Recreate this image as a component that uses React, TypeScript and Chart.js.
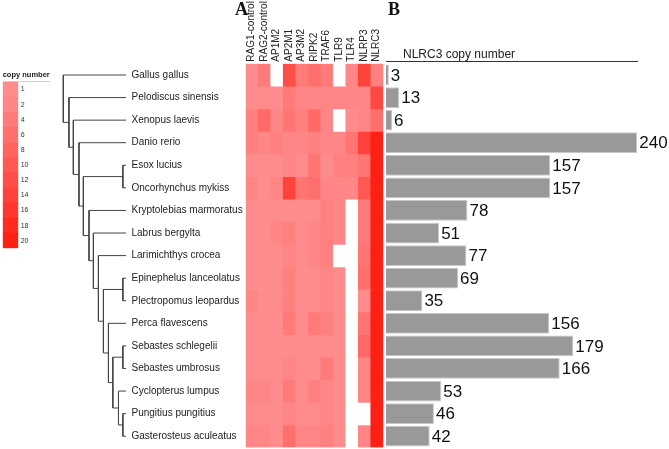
import React, { useEffect, useRef } from 'react';
import { Chart, registerables } from 'chart.js';

Chart.register(...registerables);
Chart.defaults.font.family = "'Liberation Sans', Arial, sans-serif";

// ---------- data ----------
const species = [
  'Gallus gallus',
  'Pelodiscus sinensis',
  'Xenopus laevis',
  'Danio rerio',
  'Esox lucius',
  'Oncorhynchus mykiss',
  'Kryptolebias marmoratus',
  'Labrus bergylta',
  'Larimichthys crocea',
  'Epinephelus lanceolatus',
  'Plectropomus leopardus',
  'Perca flavescens',
  'Sebastes schlegelii',
  'Sebastes umbrosus',
  'Cyclopterus lumpus',
  'Pungitius pungitius',
  'Gasterosteus aculeatus',
];

const genes = ['RAG1-control', 'RAG2-control', 'AP1M2', 'AP2M1', 'AP3M2', 'RIPK2', 'TRAF6', 'TLR9', 'TLR4', 'NLRP3', 'NLRC3'];

// NLRC3 copy number per species (panel B, also last heatmap column)
const nlrc3Copies = [3, 13, 6, 240, 157, 157, 78, 51, 77, 69, 35, 156, 179, 166, 53, 46, 42];

// copy numbers of the other genes (RAG1-control ... NLRP3), 0 = absent
const otherCopies = [
  [1, 4, 0, 12, 4, 6, 4, 0, 2, 14],
  [1, 1, 1, 4, 2, 2, 2, 2, 2, 2],
  [3, 7, 2, 5, 3, 7, 2, 0, 1, 2],
  [3, 2, 3, 2, 2, 3, 2, 2, 5, 14],
  [1, 1, 1, 2, 1, 5, 1, 3, 3, 5],
  [2, 1, 2, 14, 5, 6, 2, 2, 2, 10],
  [1, 1, 1, 1, 1, 1, 3, 2, 0, 4],
  [1, 1, 2, 3, 1, 2, 3, 2, 0, 4],
  [1, 1, 1, 2, 1, 2, 3, 0, 0, 5],
  [1, 1, 1, 3, 1, 1, 2, 1, 0, 6],
  [2, 1, 1, 3, 1, 1, 2, 1, 0, 1],
  [1, 1, 1, 4, 1, 4, 3, 1, 0, 5],
  [1, 1, 1, 1, 1, 1, 1, 1, 0, 7],
  [1, 1, 1, 2, 1, 1, 4, 1, 0, 2],
  [2, 2, 1, 4, 1, 3, 2, 1, 0, 2],
  [1, 1, 1, 2, 1, 1, 2, 1, 0, 0],
  [2, 2, 1, 6, 2, 2, 3, 1, 0, 2],
];

const legendSteps = [1, 2, 4, 6, 8, 10, 12, 14, 16, 18, 20];

// tree: [id, relative depth, children]; numbers are leaf (species) indexes
const treeNodes: [string, number, (number | string)[]][] = [
  ['n1', 0.0, [0, 'n2']],
  ['n2', 0.09, [1, 'n3']],
  ['n3', 0.16, [2, 'n4']],
  ['n4', 0.25, [3, 'n5']],
  ['n5', 0.32, ['p1', 'n6']],
  ['p1', 0.95, [4, 5]],
  ['n6', 0.41, [6, 'n7']],
  ['n7', 0.48, [7, 'n8']],
  ['n8', 0.56, [8, 'n9']],
  ['n9', 0.64, ['p2', 'n10']],
  ['p2', 0.95, [9, 10]],
  ['n10', 0.72, [11, 'n11']],
  ['n11', 0.79, ['p3', 'n12']],
  ['p3', 0.95, [12, 13]],
  ['n12', 0.88, [14, 'p4']],
  ['p4', 0.95, [15, 16]],
];
const leafDepth = 1;

// ---------- helpers ----------
const lowColor = [255, 140, 140];
const highColor = [255, 32, 20];
function heatColor(v: number): string {
  if (!v) return '#ffffff';
  const t = (Math.min(v, 20) - 1) / 19;
  const c = lowColor.map((l, k) => Math.round(l + (highColor[k] - l) * t));
  return `rgb(${c[0]},${c[1]},${c[2]})`;
}

const nodeMap = new Map(treeNodes.map((n) => [n[0], n]));
function nodeY(id: number | string): number {
  if (typeof id === 'number') return id;
  const ch = nodeMap.get(id)![2];
  return (nodeY(ch[0]) + nodeY(ch[ch.length - 1])) / 2;
}
function nodeX(id: number | string): number {
  if (typeof id === 'number') return leafDepth;
  return nodeMap.get(id)![1];
}

const valueLabels = {
  id: 'valueLabels',
  afterDatasetsDraw(chart: any) {
    const ctx = chart.ctx;
    const meta = chart.getDatasetMeta(0);
    ctx.save();
    ctx.font = "17px 'Liberation Sans', Arial, sans-serif";
    ctx.fillStyle = '#111';
    ctx.textBaseline = 'middle';
    ctx.textAlign = 'left';
    meta.data.forEach((el: any, i: number) => {
      ctx.fillText(String(chart.data.datasets[0].data[i]), el.x + 2, el.y + 1);
    });
    ctx.restore();
  },
};

export default function App() {
  const legendRef = useRef<HTMLCanvasElement>(null);
  const treeRef = useRef<HTMLCanvasElement>(null);
  const heatRef = useRef<HTMLCanvasElement>(null);
  const barRef = useRef<HTMLCanvasElement>(null);

  useEffect(() => {
    const charts: Chart[] = [];
    const noPlugins = { legend: { display: false }, tooltip: { enabled: false } };

    // colour key
    charts.push(
      new Chart(legendRef.current!, {
        type: 'bar',
        data: {
          labels: legendSteps.map(String),
          datasets: [
            {
              data: legendSteps.map(() => 1),
              backgroundColor: legendSteps.map(heatColor),
              barPercentage: 1,
              categoryPercentage: 1,
              borderWidth: 0,
            },
          ],
        },
        options: {
          indexAxis: 'y',
          responsive: false,
          animation: false,
          layout: { padding: { left: 2.7, right: 0, top: 0, bottom: 6.7 } },
          plugins: {
            ...noPlugins,
            title: {
              display: true,
              text: 'copy number',
              align: 'start',
              color: '#222',
              font: { size: 7.5, weight: 'bold' },
              padding: { top: 10, bottom: 3 },
            },
          },
          scales: {
            x: { display: false, min: 0, max: 1 },
            y: {
              position: 'right',
              grid: { display: false, drawTicks: false },
              border: { display: false },
              ticks: { font: { size: 7 }, color: '#333', padding: 2.4, autoSkip: false },
              afterFit: (a: any) => {
                a.width = 41.7;
                a.paddingTop = 0;
                a.paddingBottom = 0;
              },
            },
          },
        } as any,
      })
    );

    // tree
    const treeDatasets = treeNodes.map(([, d, ch]) => {
      const a = ch[0];
      const b = ch[ch.length - 1];
      return {
        data: [
          { x: nodeX(a), y: nodeY(a) },
          { x: d, y: nodeY(a) },
          { x: d, y: nodeY(b) },
          { x: nodeX(b), y: nodeY(b) },
        ],
        showLine: true,
        pointRadius: 0,
        borderColor: '#444',
        borderWidth: 1,
        clip: false as any,
      };
    });
    charts.push(
      new Chart(treeRef.current!, {
        type: 'scatter',
        data: { datasets: treeDatasets },
        options: {
          responsive: false,
          animation: false,
          layout: { padding: { left: 8.3, right: 0, top: 63.7, bottom: 1.5 } },
          plugins: noPlugins,
          scales: {
            x: { type: 'linear', display: false, min: 0, max: 1 },
            y: {
              type: 'linear',
              min: -0.5,
              max: 16.5,
              reverse: true,
              position: 'right',
              grid: { display: false, drawTicks: false },
              border: { display: false },
              afterBuildTicks: (a: any) => {
                a.ticks = species.map((_, i) => ({ value: i }));
              },
              ticks: {
                autoSkip: false,
                padding: 5.5,
                color: '#222',
                font: { size: 10 },
                callback: (v: any) => species[v as number],
              },
              afterFit: (a: any) => {
                a.width = 119;
                a.paddingTop = 0;
                a.paddingBottom = 0;
              },
            },
          },
        } as any,
      })
    );

    // heatmap
    charts.push(
      new Chart(heatRef.current!, {
        type: 'bar',
        data: {
          labels: genes,
          datasets: species.map((s, i) => ({
            label: s,
            data: genes.map(() => 1),
            backgroundColor: [...otherCopies[i], nlrc3Copies[i]].map(heatColor),
            barPercentage: 1,
            categoryPercentage: 1,
            borderWidth: 0,
          })),
        },
        options: {
          responsive: false,
          animation: false,
          layout: { padding: { left: 5.7, right: 6.7, top: 0, bottom: 1.5 } },
          plugins: noPlugins,
          scales: {
            x: {
              position: 'top',
              stacked: true,
              grid: { display: false, drawTicks: false },
              border: { display: false },
              ticks: {
                minRotation: 90,
                maxRotation: 90,
                autoSkip: false,
                padding: 2,
                labelOffset: 11.5,
                color: '#222',
                font: { size: 10 },
              },
              afterFit: (a: any) => {
                a.height = 63.7;
                a.paddingLeft = 0;
                a.paddingRight = 0;
              },
            },
            y: { stacked: true, display: false, min: 0, max: 17, reverse: true },
          },
        } as any,
      })
    );

    // NLRC3 bars
    charts.push(
      new Chart(barRef.current!, {
        type: 'bar',
        data: {
          labels: species,
          datasets: [
            {
              data: nlrc3Copies,
              backgroundColor: '#999999',
              borderColor: '#c8c8c8',
              borderWidth: 1,
              barPercentage: 0.92,
              categoryPercentage: 1,
            },
          ],
        },
        options: {
          indexAxis: 'y',
          responsive: false,
          animation: false,
          layout: { padding: { left: 5.7, right: 31.7, top: 63.7, bottom: 1.5 } },
          plugins: noPlugins,
          scales: {
            x: { display: false, min: 0, max: 240 },
            y: { display: false },
          },
        } as any,
        plugins: [valueLabels],
      })
    );

    return () => charts.forEach((c) => c.destroy());
  }, []);

  const abs = (l: number, t: number): React.CSSProperties => ({ position: 'absolute', left: l, top: t });
  const serif: React.CSSProperties = {
    fontFamily: "'Liberation Serif', 'Times New Roman', serif",
    fontWeight: 'bold',
    fontSize: 18,
    lineHeight: '18px',
    color: '#111',
  };

  return (
    <div style={{ position: 'absolute', left: 0, top: 0, width: 669, height: 449, background: '#fff', overflow: 'hidden' }}>
      <div style={{ ...abs(3, 81), width: 47, height: 0, borderTop: '1px solid #d0d0d0' }} />
      <canvas ref={legendRef} width={60} height={195} style={abs(0, 60)} />
      <canvas ref={treeRef} width={190} height={449} style={abs(55, 0)} />
      <canvas ref={heatRef} width={150} height={449} style={abs(240, 0)} />
      <canvas ref={barRef} width={289} height={449} style={abs(380, 0)} />
      <div style={{ ...abs(235, 0), ...serif }}>A</div>
      <div style={{ ...abs(388, 0), ...serif }}>B</div>
      <div
        style={{
          ...abs(386, 46),
          width: 235,
          height: 13,
          paddingTop: 2,
          paddingLeft: 17,
          borderBottom: '1px solid #333',
          fontFamily: "'Liberation Sans', Arial, sans-serif",
          fontSize: 12,
          lineHeight: '12px',
          color: '#222',
          whiteSpace: 'nowrap',
        }}
      >
        NLRC3 copy number
      </div>
    </div>
  );
}
